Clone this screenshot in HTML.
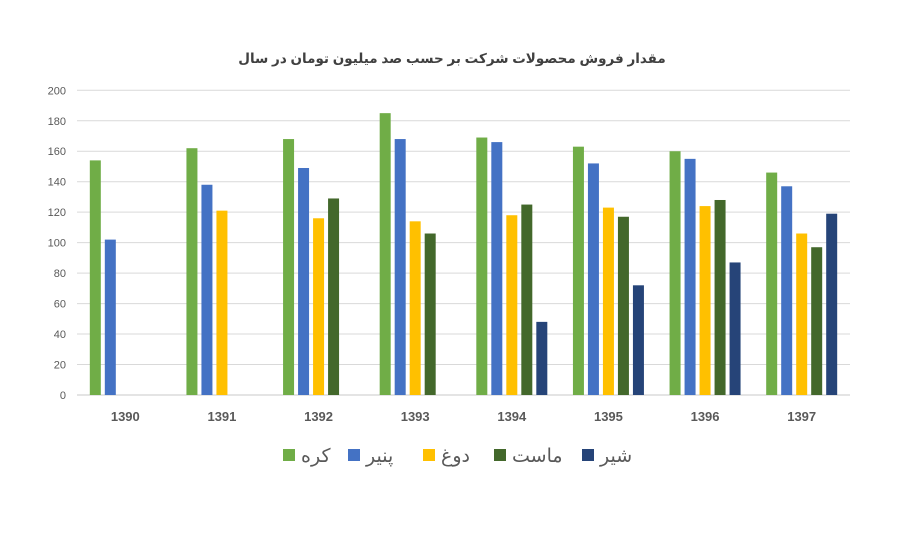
<!DOCTYPE html>
<html><head><meta charset="utf-8">
<style>
body{margin:0;background:#fff;}
svg text{font-family:"Liberation Sans","DejaVu Sans",sans-serif;}
</style></head>
<body>
<svg width="919" height="531" xmlns="http://www.w3.org/2000/svg">
<rect width="919" height="531" fill="#fff"/>
<text x="452" y="63" text-anchor="middle" font-size="13.5" font-weight="bold" fill="#404040" font-family="'DejaVu Sans',sans-serif">مقدار فروش محصولات شرکت بر حسب صد میلیون تومان در سال</text>
<g id="grid"></g><g id="bars"></g><g id="legend"></g>
</svg>
<script>
const categories=["1390","1391","1392","1393","1394","1395","1396","1397"];
const seriesNames=["کره","پنیر","دوغ","ماست","شیر"];
const seriesColors=["#70ad47","#4472c4","#ffc000","#43682b","#264478"];
const kareh=[154,162,168,185,169,163,160,146];
const panir=[102,138,149,168,166,152,155,137];
const dough=[null,121,116,114,118,123,124,106];
const mast=[null,null,129,106,125,117,128,97];
const shir=[null,null,null,null,48,72,87,119];
const yTicks=[0,20,40,60,80,100,120,140,160,180,200];
const series=[kareh,panir,dough,mast,shir];
const NS="http://www.w3.org/2000/svg";
const L=77,R=850,T=90.3,B=395,YMAX=200;
const y=v=>B-(v/YMAX)*(B-T);
const cw=(R-L)/categories.length;
const bw=11,step=15;
function mk(t,a,p){const e=document.createElementNS(NS,t);for(const k in a)e.setAttribute(k,a[k]);p.appendChild(e);return e;}
const g=document.getElementById('grid');
yTicks.forEach(t=>{
  const ln=mk('line',{x1:L,x2:R,y1:y(t),y2:y(t),stroke:t===0?'#c8c8c8':'#d9d9d9','stroke-width':1},g);
  
  
  const tx=mk('text',{x:66,y:y(t)+4,'text-anchor':'end','font-size':11,fill:'#595959'},g);
  tx.textContent=t;
  
  
});
const bg=document.getElementById('bars');
categories.forEach((c,i)=>{
  const cx=L+cw*(i+0.5);
  const x0=cx-(5*step-4)/2;
  series.forEach((s,j)=>{
    const v=s[i]; if(v==null)return;
    const r=mk('rect',{x:x0+j*step,y:y(v),width:bw,height:B-y(v),fill:seriesColors[j]},bg);
    
    
  });
  const tx=mk('text',{x:cx,y:421,'text-anchor':'middle','font-size':13,'font-weight':'bold',fill:'#595959'},bg);
  tx.textContent=c;
  
  
});
const lg=document.getElementById('legend');
const lx=[283,348,423,494,582];
seriesNames.forEach((n,j)=>{
  const r=mk('rect',{x:lx[j],y:449,width:12,height:12,fill:seriesColors[j]},lg);
  
  
  const t=mk('text',{x:lx[j]+18,y:462,'font-size':19,fill:'#595959','font-family':"'DejaVu Sans',sans-serif"},lg);
  t.textContent=n;
  
  
});
</script>
</body></html>
